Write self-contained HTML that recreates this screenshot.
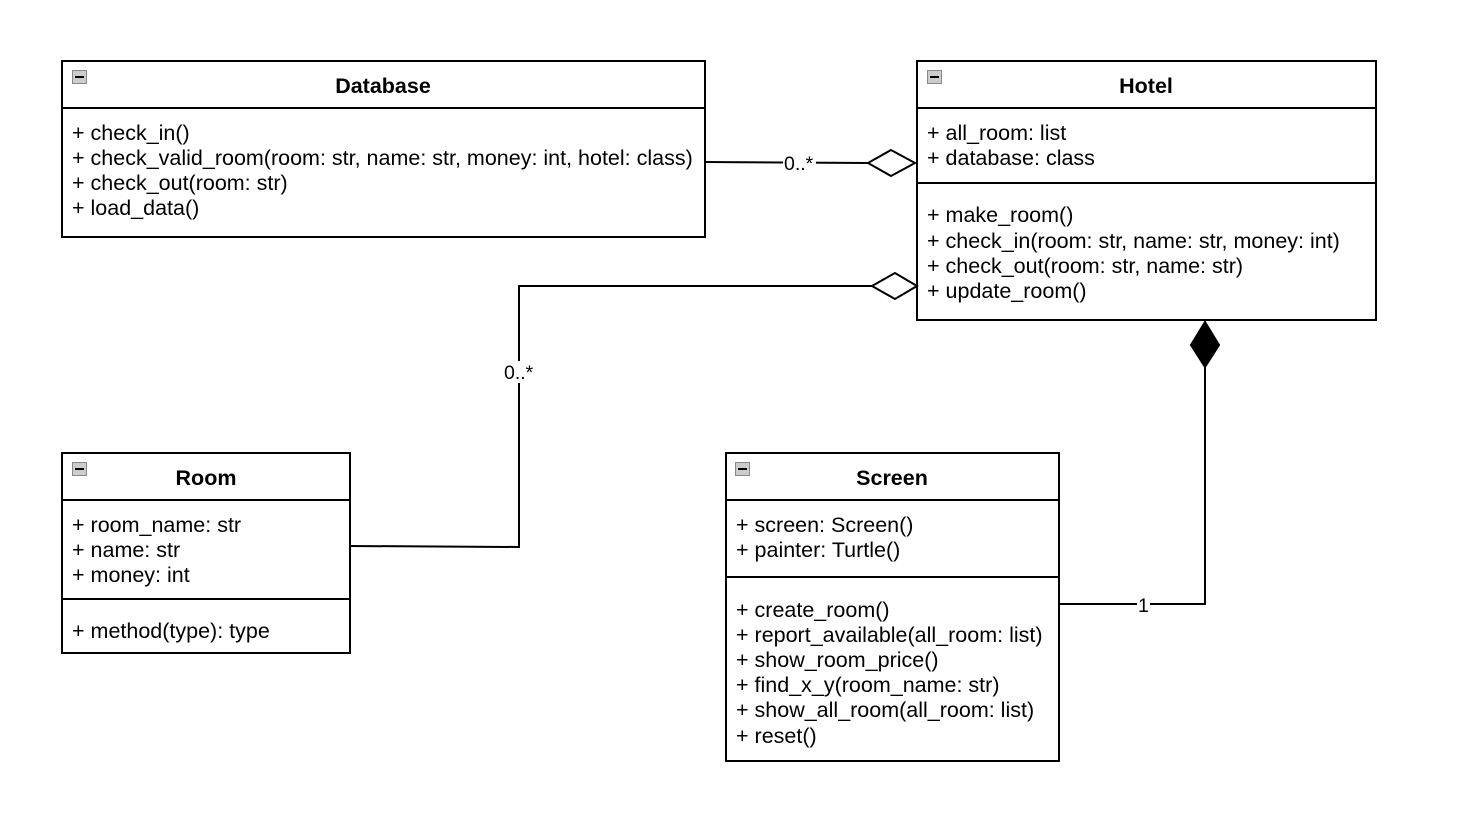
<!DOCTYPE html>
<html><head><meta charset="utf-8"><style>
html,body{margin:0;padding:0;background:#fff;}
svg{display:block;}
text{font-family:"Liberation Sans",Arial,sans-serif;font-size:21.5px;fill:#000;}
.t{font-weight:bold;text-anchor:middle;font-size:21.5px;}
.l{font-size:19.5px;}
</style></head><body>
<svg width="1467" height="820" viewBox="0 0 1467 820" xmlns="http://www.w3.org/2000/svg">
<g fill="#fff" stroke="#000" stroke-width="2">
<rect x="62" y="61" width="643" height="176"/>
<line x1="62" y1="108" x2="705" y2="108"/>
<rect x="917" y="61" width="459" height="259"/>
<line x1="917" y1="108" x2="1376" y2="108"/>
<line x1="917" y1="183" x2="1376" y2="183"/>
<rect x="62" y="453" width="288" height="200"/>
<line x1="62" y1="500" x2="350" y2="500"/>
<line x1="62" y1="599" x2="350" y2="599"/>
<rect x="726" y="453" width="333" height="308"/>
<line x1="726" y1="500" x2="1059" y2="500"/>
<line x1="726" y1="577" x2="1059" y2="577"/>
</g>
<g fill="#ccc" stroke="#888" stroke-width="1">
<rect x="72.5" y="70.5" width="14" height="13"/>
<rect x="927.5" y="70.5" width="14" height="13"/>
<rect x="72.5" y="462.5" width="14" height="13"/>
<rect x="735.5" y="462.5" width="14" height="13"/>
</g>
<g stroke="#000" stroke-width="2">
<line x1="75" y1="77" x2="84" y2="77"/><line x1="930" y1="77" x2="939" y2="77"/>
<line x1="75" y1="469" x2="84" y2="469"/><line x1="738" y1="469" x2="747" y2="469"/>
</g>
<g fill="none" stroke="#000" stroke-width="2">
<polyline points="705,162 868,163"/>
<polygon points="868,163 891,150 915,163 891,176" fill="#fff"/>
<polyline points="350,546 519,547 519,286 872,286"/>
<polygon points="872,286 895,273 917,286 895,299" fill="#fff"/>
<polyline points="1059,604 1205,604 1205,367"/>
<polygon points="1205,322 1219,345 1205,367 1191,345" fill="#000"/>
</g>
<rect x="783" y="152" width="33" height="22" fill="#fff"/>
<text class="l" x="784" y="170">0..*</text>
<rect x="503" y="361" width="34" height="22" fill="#fff"/>
<text class="l" x="504" y="379">0..*</text>
<rect x="1137" y="594" width="13" height="22" fill="#fff"/>
<text class="l" x="1138" y="612">1</text>

<text class="t" x="383" y="93">Database</text>
<text x="72" y="140">+ check_in()</text>
<text x="72" y="165">+ check_valid_room(room: str, name: str, money: int, hotel: class)</text>
<text x="72" y="190">+ check_out(room: str)</text>
<text x="72" y="215">+ load_data()</text>

<text class="t" x="1146" y="93">Hotel</text>
<text x="927" y="140">+ all_room: list</text>
<text x="927" y="165">+ database: class</text>
<text x="927" y="222">+ make_room()</text>
<text x="927" y="248">+ check_in(room: str, name: str, money: int)</text>
<text x="927" y="273">+ check_out(room: str, name: str)</text>
<text x="927" y="298">+ update_room()</text>

<text class="t" x="206" y="485">Room</text>
<text x="72" y="532">+ room_name: str</text>
<text x="72" y="557">+ name: str</text>
<text x="72" y="582">+ money: int</text>
<text x="72" y="638">+ method(type): type</text>

<text class="t" x="892" y="485">Screen</text>
<text x="736" y="532">+ screen: Screen()</text>
<text x="736" y="557">+ painter: Turtle()</text>
<text x="736" y="617">+ create_room()</text>
<text x="736" y="642">+ report_available(all_room: list)</text>
<text x="736" y="667">+ show_room_price()</text>
<text x="736" y="692">+ find_x_y(room_name: str)</text>
<text x="736" y="717">+ show_all_room(all_room: list)</text>
<text x="736" y="743">+ reset()</text>
</svg>
</body></html>
